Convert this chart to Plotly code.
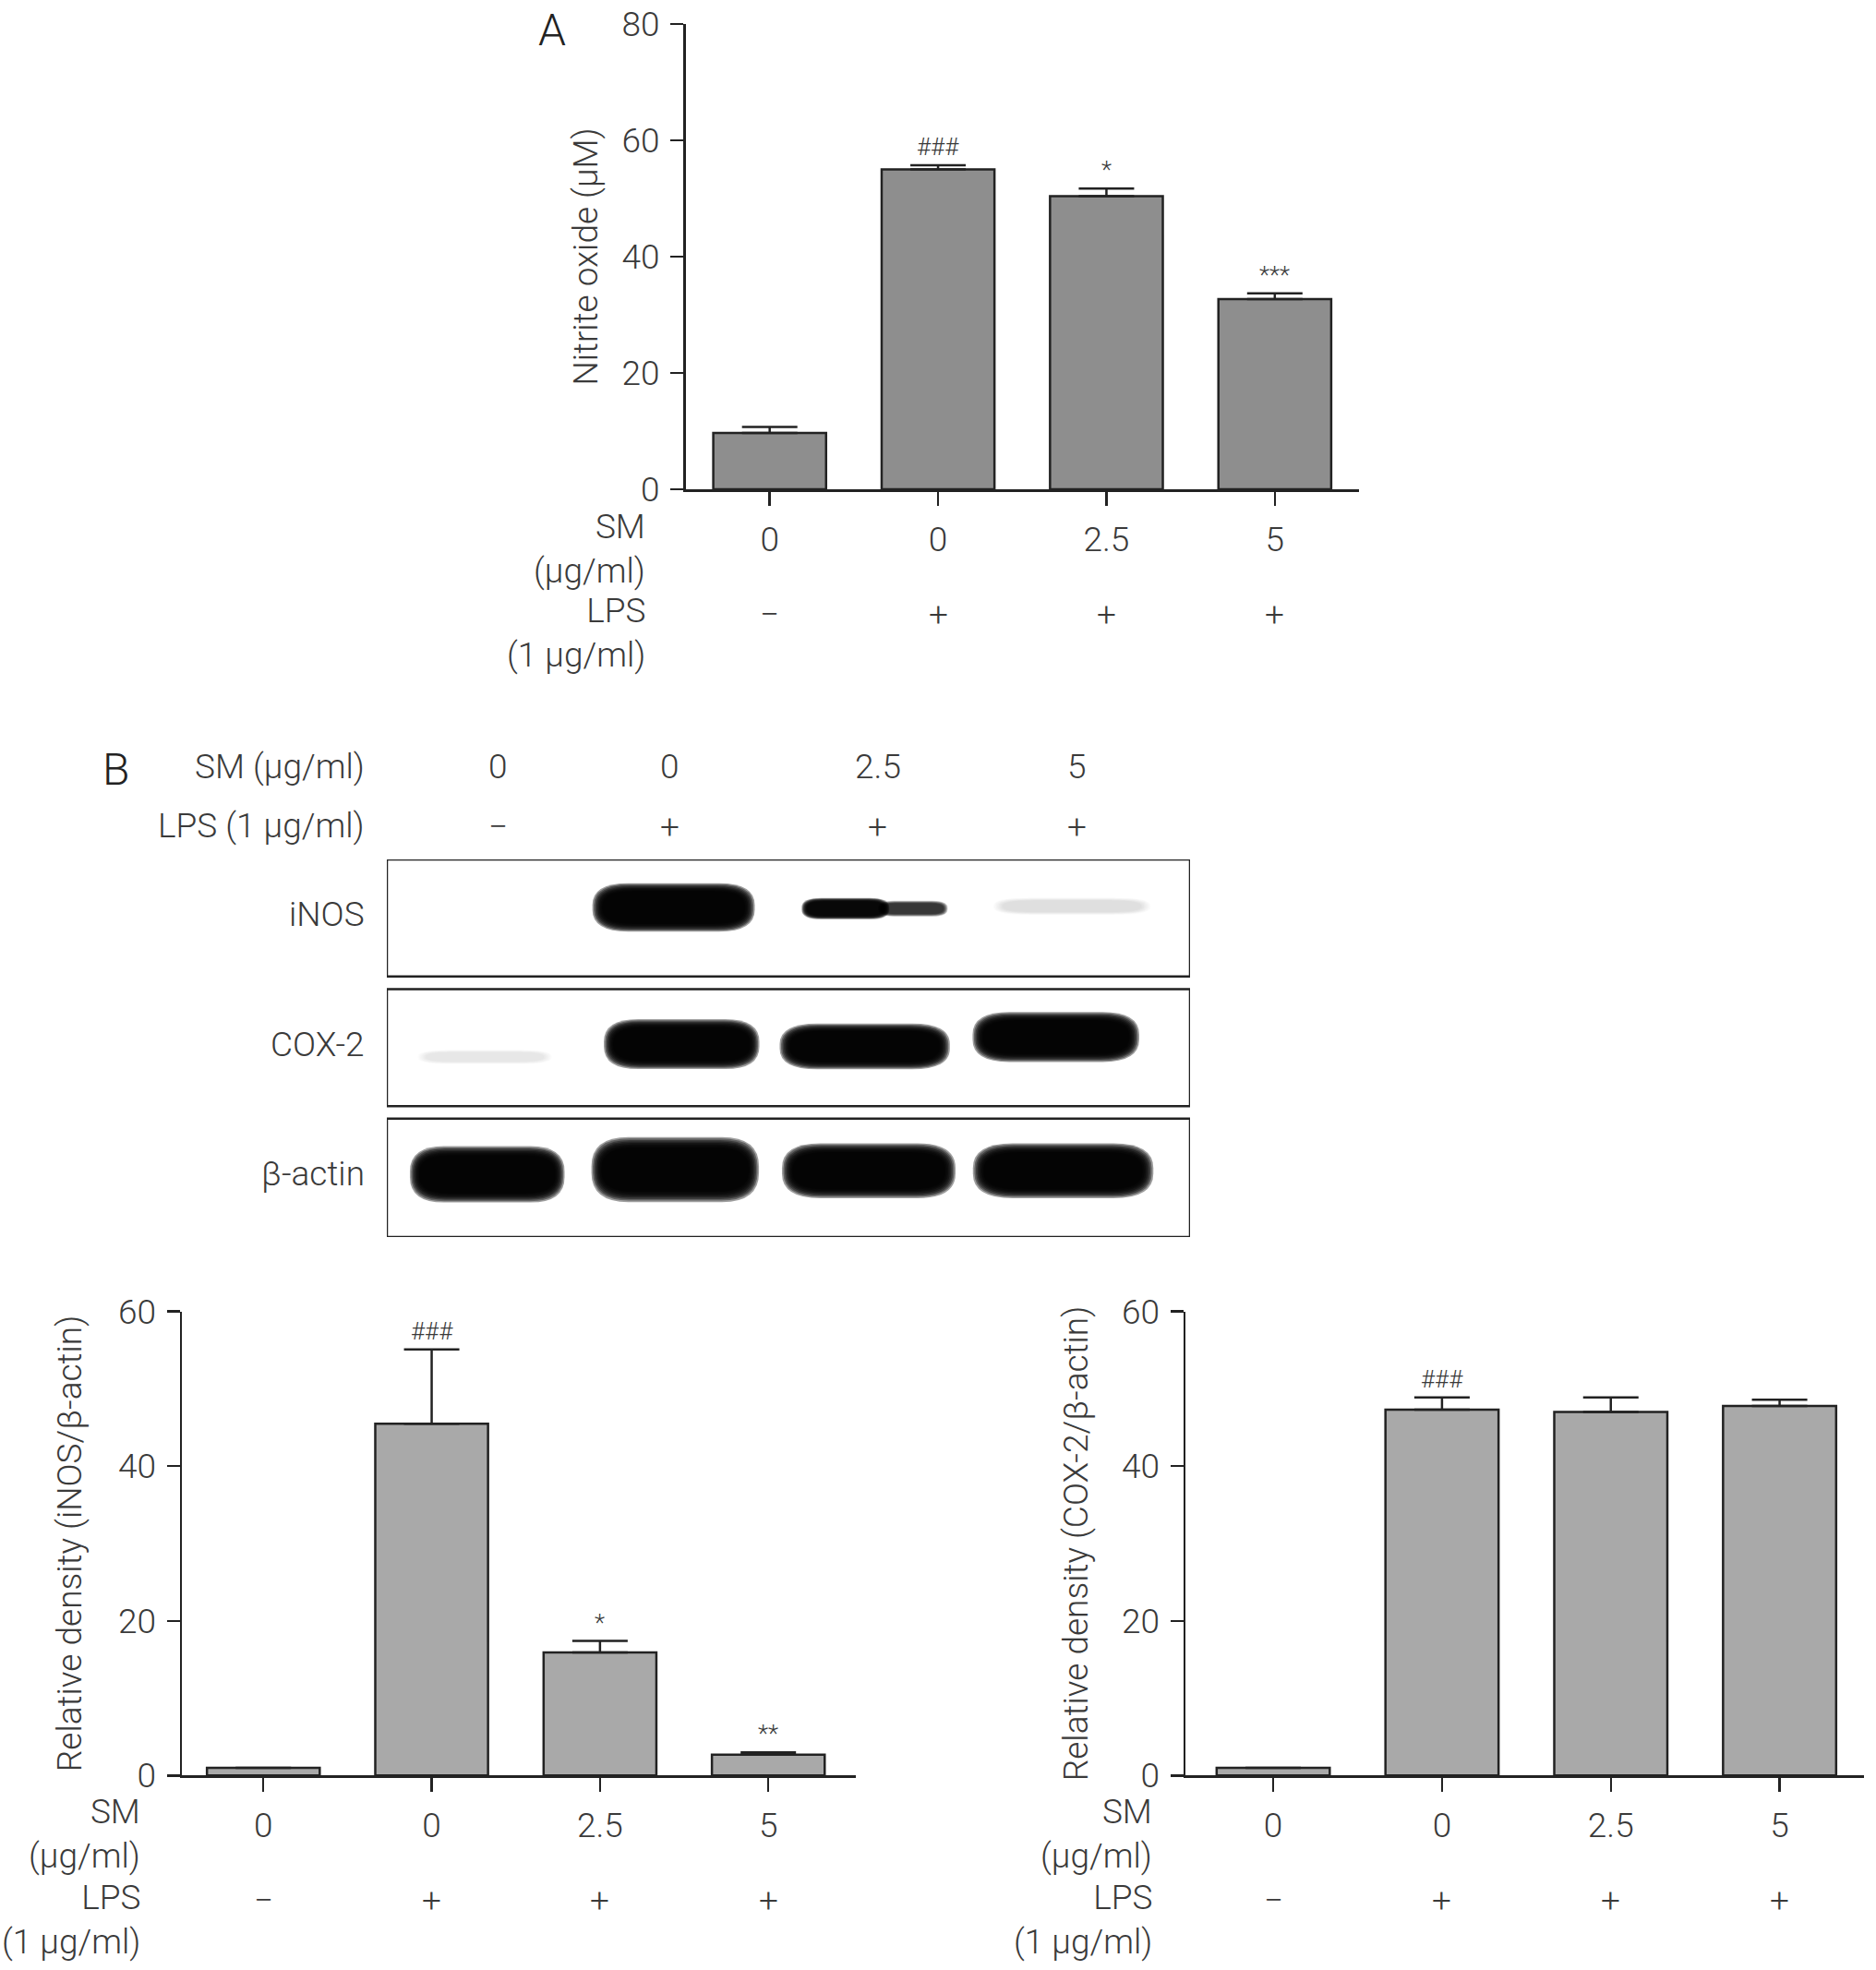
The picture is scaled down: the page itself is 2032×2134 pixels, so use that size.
import plotly.graph_objects as go

W, H = 2032, 2134

# ---------------- data ----------------
sm_doses = ["0", "0", "2.5", "5"]
lps_signs = ["\u2212", "+", "+", "+"]

no_mean = [9.7, 55.0, 50.4, 32.7]
no_sem = [1.0, 0.7, 1.3, 1.0]
no_sig = ["", "###", "*", "***"]

inos_mean = [1.0, 45.5, 15.9, 2.7]
inos_sem = [0.0, 9.6, 1.5, 0.3]
inos_sig = ["", "###", "*", "**"]

cox_mean = [1.0, 47.3, 47.0, 47.8]
cox_sem = [0.0, 1.6, 1.9, 0.8]
cox_sig = ["", "###", "", ""]

blot_rows = ["iNOS", "COX-2", "\u03b2-actin"]
# bands: (lane centre %, width %, vertical centre in row, height in row, intensity)
inos_bands = [(35.7, 18.9, 0.41, 0.34, 1.0), (57.1, 10.2, 0.42, 0.15, 0.9),
              (65.5, 8.1, 0.42, 0.11, 0.45), (85.3, 18.3, 0.40, 0.12, 0.045)]
cox_bands = [(12.2, 15.6, 0.58, 0.10, 0.03), (36.7, 18.1, 0.47, 0.35, 1.0),
             (59.5, 19.8, 0.49, 0.32, 1.0), (83.3, 19.4, 0.41, 0.35, 1.0)]
actin_bands = [(12.5, 18.0, 0.47, 0.39, 1.0), (35.9, 19.5, 0.43, 0.45, 1.0),
               (60.0, 20.2, 0.44, 0.38, 1.0), (84.2, 21.0, 0.44, 0.38, 1.0)]

# ---------------- style ----------------
FONT = "Roboto, Liberation Sans, Arial, sans-serif"
WEIGHT = 300
TXT = "#3a3a3a"
LINE = "#222222"
FS = 37
SIGFS = 26
idx = list(range(len(sm_doses)))

def px(x):
    return x / W

def py(y):
    return 1 - y / H

def fnt(size=FS, color=TXT):
    return dict(family=FONT, size=size, color=color, weight=WEIGHT)

fig = go.Figure()

def add_bars(xa, ya, mean, sem, color):
    fig.add_trace(go.Bar(
        x=idx, y=mean, xaxis=xa, yaxis=ya, width=0.67,
        marker=dict(color=color, line=dict(color=LINE, width=2.5)),
        error_y=dict(type="data", array=sem, arrayminus=[0] * len(sem), symmetric=False,
                     color=LINE, thickness=2.5, width=30),
        showlegend=False, hoverinfo="skip"))

add_bars("x", "y", no_mean, no_sem, "#8e8e8e")
add_bars("x2", "y2", inos_mean, inos_sem, "#a9a9a9")
add_bars("x3", "y3", cox_mean, cox_sem, "#a9a9a9")

# invisible trace to activate blot axes
fig.add_trace(go.Scatter(x=[0, 100], y=[0, 3], xaxis="x4", yaxis="y4", mode="markers",
                         marker=dict(opacity=0), showlegend=False, hoverinfo="skip"))

def xax(domain, rng, anchor):
    return dict(domain=domain, range=rng, tickvals=idx, ticktext=sm_doses, anchor=anchor,
                showline=True, linecolor=LINE, linewidth=2.5, ticks="outside", ticklen=15,
                tickwidth=2.5, tickcolor=LINE, tickfont=fnt(),
                showgrid=False, zeroline=False, fixedrange=True, automargin=False,
                ticklabelstandoff=5)

def yax(domain, rng, dtick, title, anchor, standoff):
    return dict(domain=domain, range=rng, dtick=dtick, anchor=anchor,
                showline=True, linecolor=LINE, linewidth=2.5, ticks="outside", ticklen=14,
                tickwidth=2.5, tickcolor=LINE, tickfont=fnt(),
                showgrid=False, zeroline=False, automargin=False, ticklabelstandoff=4,
                fixedrange=True,
                title=dict(text=title, font=fnt(), standoff=standoff))

fig.update_layout(
    template="none",
    width=W, height=H, margin=dict(l=0, r=0, t=0, b=0, pad=0, autoexpand=False),
    paper_bgcolor="white", plot_bgcolor="rgba(0,0,0,0)",
    showlegend=False,
    xaxis=xax([px(742.5), px(1472)], [-0.5, 3.5], "y"),
    yaxis=yax([py(530), py(26)], [0, 80], 20, "Nitrite oxide (\u03bcM)", "x", 15),
    xaxis2=xax([px(197), px(927)], [-0.484, 3.52], "y2"),
    yaxis2=yax([py(1923.3), py(1420.7)], [0, 60], 20, "Relative density (iNOS/\u03b2-actin)", "x2", 28),
    xaxis3=xax([px(1284), px(2019)], [-0.52, 3.50], "y3"),
    yaxis3=yax([py(1923.3), py(1420.7)], [0, 60], 20, "Relative density (COX-2/\u03b2-actin)", "x3", 25),
    xaxis4=dict(domain=[px(419), px(1289)], range=[0, 100], visible=False, anchor="y4", fixedrange=True),
    yaxis4=dict(domain=[py(1340), py(931)], range=[3.0, 0], visible=False, anchor="x4", fixedrange=True),
)

ann = []
# significance marks
for xa, ya, mean, sem, sig in [("x", "y", no_mean, no_sem, no_sig),
                               ("x2", "y2", inos_mean, inos_sem, inos_sig),
                               ("x3", "y3", cox_mean, cox_sem, cox_sig)]:
    for i in idx:
        if sig[i]:
            ann.append(dict(x=i, y=mean[i] + sem[i], xref=xa, yref=ya, text=sig[i],
                            showarrow=False, yanchor="bottom", yshift=3, font=fnt(SIGFS)))

# row labels under the bar charts
for xa, xr, ysm, ylps, ysign in [("x", 701, 594, 685, 665.5),
                                 ("x2", 154, 1986, 2079, 2058),
                                 ("x3", 1249.5, 1986, 2079, 2058)]:
    ann.append(dict(x=px(xr), y=py(ysm), xref="paper", yref="paper", text="SM<br>(\u03bcg/ml)",
                    xanchor="right", yanchor="middle", align="right", showarrow=False, font=fnt()))
    ann.append(dict(x=px(xr), y=py(ylps), xref="paper", yref="paper", text="LPS<br>(1 \u03bcg/ml)",
                    xanchor="right", yanchor="middle", align="right", showarrow=False, font=fnt()))
    for i in idx:
        ann.append(dict(x=i, y=py(ysign), xref=xa, yref="paper", text=lps_signs[i],
                        showarrow=False, yanchor="middle", font=fnt()))

# panel letters
ann.append(dict(x=px(598), y=py(32), xref="paper", yref="paper", text="A", showarrow=False,
                font=fnt(48, "#222"), xanchor="center", yanchor="middle"))
ann.append(dict(x=px(125), y=py(833), xref="paper", yref="paper", text="B", showarrow=False,
                font=fnt(48, "#222"), xanchor="center", yanchor="middle"))

# blot header
lane_x = [13.9, 35.2, 61.1, 85.9]
ann.append(dict(x=px(397), y=py(830), xref="paper", yref="paper", text="SM (\u03bcg/ml)",
                showarrow=False, xanchor="right", yanchor="middle", font=fnt()))
ann.append(dict(x=px(397), y=py(894), xref="paper", yref="paper", text="LPS (1 \u03bcg/ml)",
                showarrow=False, xanchor="right", yanchor="middle", font=fnt()))
for i in idx:
    ann.append(dict(x=lane_x[i], y=py(830), xref="x4", yref="paper", text=sm_doses[i],
                    showarrow=False, yanchor="middle", font=fnt()))
    ann.append(dict(x=lane_x[i], y=py(895), xref="x4", yref="paper", text=lps_signs[i],
                    showarrow=False, yanchor="middle", font=fnt()))

row_top = [0.0, 1.03, 2.06]
row_h = [0.93, 0.93, 0.94]
for r, name in enumerate(blot_rows):
    ann.append(dict(x=px(397), y=row_top[r] + 0.44, xref="paper", yref="y4", text=name,
                    showarrow=False, xanchor="right", yanchor="middle", font=fnt()))

fig.update_layout(annotations=ann)

# blot bands (soft edges from stacked translucent rounded rectangles)
def band_path(cx, w, cy, h):
    x0, x1 = cx - w / 2, cx + w / 2
    y0, y1 = cy - h / 2, cy + h / 2
    rx, ry = w * 0.22, h * 0.45
    return (f"M{x0+rx},{y0} L{x1-rx},{y0} Q{x1},{y0} {x1},{y0+ry} L{x1},{y1-ry} "
            f"Q{x1},{y1} {x1-rx},{y1} L{x0+rx},{y1} Q{x0},{y1} {x0},{y1-ry} "
            f"L{x0},{y0+ry} Q{x0},{y0} {x0+rx},{y0} Z")

n_layers = 8
layers = [(1.07 - 0.018 * k, 1.22 - 0.055 * k, 0.38) for k in range(n_layers)]
shapes = []
for r, bands in enumerate([inos_bands, cox_bands, actin_bands]):
    for (cx, w, cy, h, inten) in bands:
        for sx, sy, op in layers:
            shapes.append(dict(type="path", xref="x4", yref="y4",
                               path=band_path(cx, w * sx, row_top[r] + cy * row_h[r], h * row_h[r] * sy),
                               fillcolor="black", opacity=min(1.0, op * inten),
                               line=dict(width=0), layer="above"))
    shapes.append(dict(type="rect", xref="x4", yref="y4", x0=0, x1=100,
                       y0=row_top[r], y1=row_top[r] + row_h[r],
                       line=dict(color=LINE, width=2.5), fillcolor="rgba(0,0,0,0)", layer="above"))

fig.update_layout(shapes=shapes)

fig.write_html("out.html", config={"displayModeBar": False, "staticPlot": True},
               post_script="document.body.style.margin='0';document.body.style.padding='0';"
                           "document.body.style.overflow='hidden';")
